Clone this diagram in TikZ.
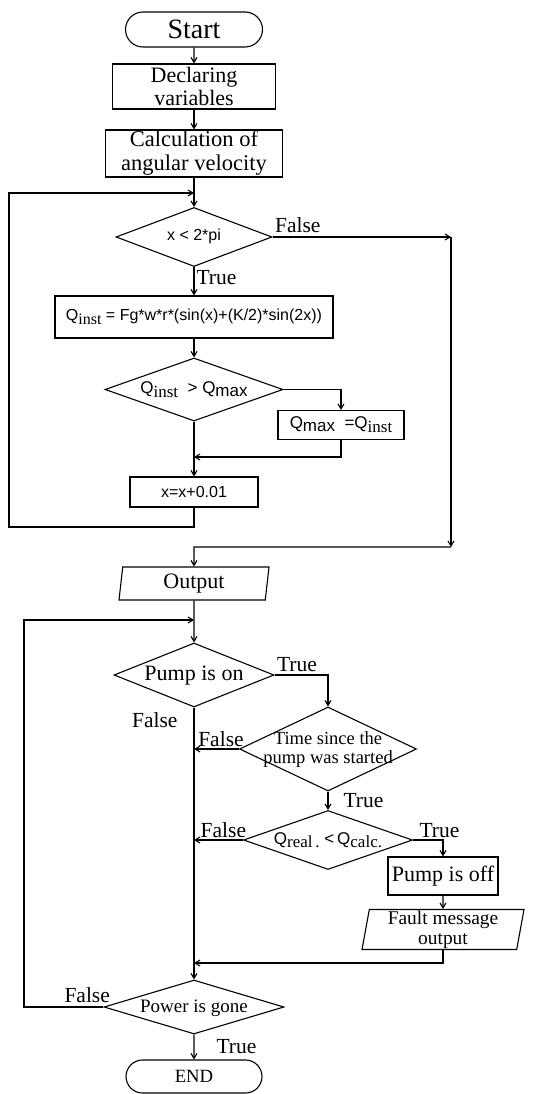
\documentclass[tikz,border=0pt]{standalone}
\usepackage{fontspec}
\setmainfont{Liberation Serif}
\setsansfont{Liberation Sans}
\usetikzlibrary{arrows.meta,positioning,shapes.geometric,shapes.misc}

\newcommand{\fs}[2]{\fontsize{#1}{#2}\selectfont}
\newcommand{\sub}[1]{\raisebox{-0.22em}{\rmfamily #1}}
\newcommand{\lo}[1]{\raisebox{-0.15em}{#1}}
\newcommand{\dtext}[1]{\smash{\makebox[0pt]{\raisebox{-0.28em}{\begin{tabular}{@{}c@{}}#1\end{tabular}}}}}

\begin{document}
\begin{tikzpicture}[
  x=1pt, y=-1pt,
  >={Straight Barb[length=5pt,width=6pt]},
  line width=1.1pt,
  every node/.style={font=\fs{22}{23}},
  box/.style={draw, rectangle, align=center, inner sep=0pt},
  term/.style={draw, rounded rectangle, inner sep=0pt},
  io/.style={draw, trapezium, trapezium left angle=79, trapezium right angle=101,
             trapezium stretches body, align=center, inner sep=0pt},
  dec/.style={draw, diamond, inner sep=0pt},
  lbl/.style={font=\fs{21.5}{22}, inner sep=2pt},
]
\useasboundingbox (0,0) rectangle (553,1094);

% first part: maximum of Q
\node[term, minimum width=137pt, minimum height=35pt, font=\fs{28}{30}] (start) at (194,29.5) {Start};
\node[box, minimum width=163pt, minimum height=45pt] (decl) at (194,86.5) {Declaring\\variables};
\node[box, minimum width=177pt, minimum height=47pt, font=\fs{22.5}{24}] (calc) at (194,153.5) {Calculation of\\angular velocity};
\node[dec, minimum width=156pt, minimum height=59pt, font=\sffamily\fs{16}{18}] (cond1) at (194,237) {\dtext{x < 2*pi}};
\node[box, minimum width=278pt, minimum height=42pt, font=\sffamily\fs{16}{18}] (qinst) at (194,317)
  {Q\sub{inst} = Fg*w*r*(sin(x)+(K/2)*sin(2x))};
\node[dec, minimum width=178pt, minimum height=63pt, font=\sffamily\fs{17}{19}] (cond2) at (194,389.5)
  {\dtext{Q\sub{inst}\ \ > Q\lo{max}}};
\node[box, minimum width=126pt, minimum height=29pt, font=\sffamily\fs{17}{19}] (qmax) at (341,425)
  {Q\lo{max}\ \ =Q\sub{inst}};
\node[box, minimum width=128pt, minimum height=30pt, font=\sffamily\fs{16}{18}] (incr) at (194,492) {x=x+0.01};

\coordinate (j1) at (194,457);
\coordinate (j2) at (194,193);
\coordinate (lpb) at (9,527);
\coordinate (fa) at (451,237);
\coordinate (fb) at (451,547);
\coordinate (j3) at (194,547);

\draw[->] (start) -- (decl);
\draw[->] (decl) -- (calc);
\draw[->] (calc) -- (cond1);
\draw[->] (cond1) -- node[lbl, right, pos=0.37] {True} (qinst);
\draw[->] (qinst) -- (cond2);
\draw[->] (cond2.east) -| (qmax.north);
\draw[->] (qmax.south) |- (j1);
\draw[->] (cond2) -- (incr);
\draw[->] (incr.south) |- (lpb) |- (j2);
\draw[->] (cond1.east) -- node[lbl, pos=0, anchor=south west, yshift=2pt] {False} (fa);
\draw[->] (fa) -- (fb);

% second part: pump control
\node[io, minimum width=150pt, minimum height=33pt] (out) at (194,583.5) {Output};
\node[dec, minimum width=160pt, minimum height=64pt] (pump) at (194,675) {\dtext{Pump is on}};
\node[dec, minimum width=177pt, minimum height=84pt, font=\fs{18.5}{19}] (time) at (328,749)
  {\dtext{Time since the\\pump was started}};
\node[dec, minimum width=169pt, minimum height=59pt, font=\sffamily\fs{17}{19}] (qreal) at (328,840)
  {\dtext{Q\sub{real\,.}\ <\,Q\sub{calc.}}};
\node[box, minimum width=110pt, minimum height=38pt] (off) at (443,876) {Pump is off};
\node[io, minimum width=162pt, minimum height=40pt, font=\fs{19.4}{20}] (fault) at (443,929.5) {Fault message\\output};
\node[dec, minimum width=180pt, minimum height=54pt, font=\fs{19}{20}] (power) at (194,1007) {\dtext{Power is gone}};
\node[term, minimum width=136pt, minimum height=33pt, font=\fs{18.7}{20}] (endn) at (194,1076.5) {END};

\coordinate (j4) at (194,620);
\coordinate (j7) at (194,963);
\coordinate (lpc) at (24,1007);

\draw[->] (fb) -- (j3) -- (out);
\draw[->] (out) -- (pump);
\draw[->] (pump) -- node[lbl, pos=0, anchor=north east, xshift=-14pt, yshift=-2pt] {False} (power);
\draw[->] (pump.east) -| node[lbl, pos=0, anchor=south west, yshift=1pt] {True} (time.north);
\draw[->] (time.west) -- node[lbl, above, pos=0.4] {False} (time.west -| pump.south);
\draw[->] (time) -- node[lbl, right, xshift=13pt] {True} (qreal);
\draw[->] (qreal.west) -- node[lbl, above, pos=0.4] {False} (qreal.west -| pump.south);
\draw[->] (qreal.east) -| node[lbl, pos=0, anchor=south west, xshift=4pt] {True} (off.north);
\draw[->] (off) -- (fault);
\draw[->] (fault.south) |- (j7);
\draw[->] (power.west) -- node[lbl, pos=0, anchor=south east, xshift=9pt, yshift=2pt] {False} (lpc) |- (j4);
\draw[->] (power) -- node[lbl, right, xshift=20pt] {True} (endn);
\end{tikzpicture}
\end{document}
